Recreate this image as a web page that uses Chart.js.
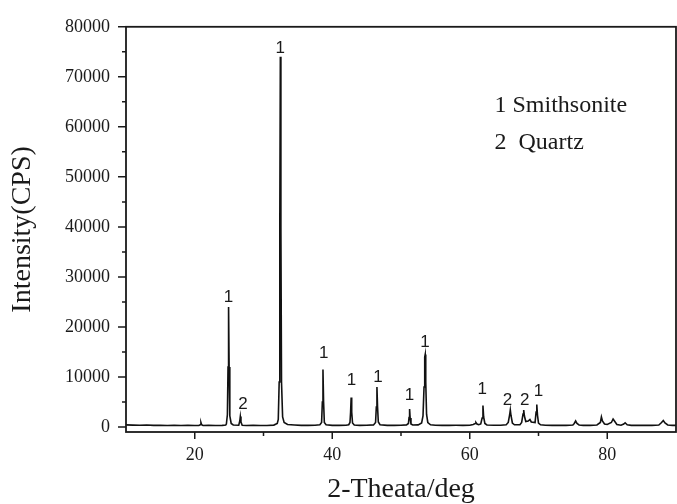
<!DOCTYPE html>
<html>
<head>
<meta charset="utf-8">
<script src="https://cdn.jsdelivr.net/npm/chart.js@4.4.0/dist/chart.umd.min.js"></script>
<style>
    html, body { margin: 0; padding: 0; background: #fff; }
</style>
</head>
<body>
<canvas id="xrdChart" width="677" height="504"></canvas>
<script>
// diffraction pattern (2-theta in deg, intensity in CPS)
const twoTheta = [
    10, 11, 12, 13, 14, 15, 16, 17, 18, 19, 20,
    20.6, 20.8, 20.9, 21.0, 21.2,
    22, 23, 24, 24.5,
    24.6, 24.75, 24.84, 24.92, 25.0, 25.1, 25.3, 25.6,
    26.4, 26.55, 26.63, 26.72, 26.9,
    27.5, 28.5, 29.5, 30.5, 31.5, 32.0,
    32.15, 32.28, 32.37, 32.45, 32.53, 32.62, 32.78, 33.0, 33.5,
    34.5, 35.5, 36.5, 37.5, 38.2,
    38.45, 38.56, 38.65, 38.74, 38.85, 39.1,
    40, 41, 42, 42.4,
    42.58, 42.67, 42.75, 42.83, 42.95, 43.2,
    44, 45, 46,
    46.3, 46.41, 46.5, 46.59, 46.7, 46.95,
    48, 49, 50, 50.8,
    51.08, 51.17, 51.25, 51.33, 51.45, 51.7,
    52.5, 53.0,
    53.2, 53.35, 53.45, 53.52, 53.6, 53.72, 53.9, 54.3,
    55, 56, 57, 58, 59, 60, 60.5,
    60.8, 60.9, 61.05, 61.3,
    61.6, 61.8, 61.92, 62.02, 62.2, 62.5,
    63.5, 64.5, 65.3,
    65.6, 65.8, 65.9, 66.0, 66.2, 66.5,
    67.3,
    67.55, 67.75, 67.85, 67.95, 68.15,
    68.5, 68.75, 68.95,
    69.5, 69.65, 69.75, 69.85, 70.0, 70.3,
    71, 72, 73, 74, 75,
    75.2, 75.4, 75.6, 75.9,
    76.5, 77.5, 78.5,
    79.0, 79.15, 79.3, 79.6,
    80.0, 80.6, 80.85, 81.05, 81.4,
    82.0, 82.4, 82.6, 82.9, 83.5,
    84.5, 85.5, 86.5, 87.5,
    87.9, 88.15, 88.4, 88.8,
    89.5, 90
];
const intensity = [
    420, 380, 350, 400, 330, 360, 310, 340, 300, 330, 310,
    300, 450, 900, 450, 300,
    320, 300, 330, 380,
    600, 2500, 12000, 24000, 12000, 2200, 700, 400,
    350, 1200, 2100, 1000, 350,
    300, 320, 300, 310, 380, 700,
    1500, 9000, 40000, 74000, 40000, 9000, 2000, 900, 500,
    400, 330, 320, 340, 450,
    900, 5000, 11500, 5000, 900, 450,
    330, 320, 340, 450,
    900, 3000, 5900, 3000, 800, 400,
    330, 340, 420,
    900, 4000, 8000, 4000, 1000, 450,
    330, 320, 340, 420,
    700, 1900, 3600, 1800, 600, 400,
    420, 800,
    2200, 8000, 14000, 14500, 9000, 2500, 900, 450,
    340, 330, 320, 340, 330, 360, 500,
    700, 900, 600, 450,
    600, 1800, 4300, 2000, 700, 400,
    340, 340, 450,
    900, 2400, 3400, 2300, 800, 450,
    450,
    900, 2600, 3400, 2200, 1100,
    1200, 1500, 1000,
    900, 3000, 4500, 2400, 800, 450,
    340, 330, 320, 330, 400,
    700, 1200, 700, 400,
    330, 320, 400,
    900, 2000, 1200, 600,
    500, 900, 1600, 1200, 500,
    350, 600, 850, 450, 330,
    320, 330, 320, 400,
    900, 1300, 800, 400,
    330, 320
];

// phase markers above peaks (1 = smithsonite, 2 = quartz)
const markText = ['1', '2', '1', '1', '1', '1', '1', '1', '1', '2', '2', '1'];
const markX = [24.9, 27.0, 32.45, 38.75, 42.8, 46.65, 51.25, 53.5, 61.8, 65.5, 68.0, 70.0];
const markY = [26000, 4600, 75600, 14800, 9350, 10000, 6400, 16900, 7600, 5400, 5400, 7200];

const phaseNotes = ['1 Smithsonite', '2  Quartz'];
const phaseNoteX = [63.6, 63.6];
const phaseNoteY = [64200, 56900];

const xMajor = [20, 40, 60, 80];
const xMinor = [30, 50, 70];
const yMajor = [0, 10000, 20000, 30000, 40000, 50000, 60000, 70000, 80000];
const yMinor = [5000, 15000, 25000, 35000, 45000, 55000, 65000, 75000];

const serif = '"Liberation Serif", "Times New Roman", serif';
const ink = '#1a1a1a';

const points = twoTheta.map((t, i) => ({ x: t, y: intensity[i] }));

// frame, tick marks and text annotations
const decorations = {
    id: 'decorations',
    afterDraw(chart) {
        const { ctx, chartArea: a } = chart;
        const xs = chart.scales.x;
        const ys = chart.scales.y;
        ctx.save();
        ctx.strokeStyle = ink;
        ctx.lineWidth = 1.8;
        ctx.strokeRect(a.left, a.top, a.right - a.left, a.bottom - a.top);

        ctx.lineWidth = 1.5;
        ctx.beginPath();
        xMajor.forEach(v => { const p = xs.getPixelForValue(v); ctx.moveTo(p, a.bottom); ctx.lineTo(p, a.bottom + 7); });
        xMinor.forEach(v => { const p = xs.getPixelForValue(v); ctx.moveTo(p, a.bottom); ctx.lineTo(p, a.bottom + 4); });
        yMajor.forEach(v => { const p = ys.getPixelForValue(v); ctx.moveTo(a.left, p); ctx.lineTo(a.left - 8, p); });
        yMinor.forEach(v => { const p = ys.getPixelForValue(v); ctx.moveTo(a.left, p); ctx.lineTo(a.left - 4, p); });
        ctx.stroke();

        ctx.fillStyle = ink;
        ctx.font = '17px "Liberation Sans", Arial, sans-serif';
        ctx.textAlign = 'center';
        ctx.textBaseline = 'middle';
        markText.forEach((t, i) => {
            ctx.fillText(t, xs.getPixelForValue(markX[i]), ys.getPixelForValue(markY[i]));
        });

        ctx.font = '24px ' + serif;
        ctx.textAlign = 'left';
        phaseNotes.forEach((t, i) => {
            ctx.fillText(t, xs.getPixelForValue(phaseNoteX[i]), ys.getPixelForValue(phaseNoteY[i]));
        });
        ctx.restore();
    }
};

const ctx = document.getElementById('xrdChart').getContext('2d');

window.xrdChart = new Chart(ctx, {
    type: 'scatter',
    data: {
        datasets: [{
            data: points,
            showLine: true,
            borderColor: '#111',
            borderWidth: 1.6,
            pointRadius: 0,
            tension: 0
        }]
    },
    options: {
        responsive: false,
        animation: false,
        layout: { padding: { top: 21, right: 1, left: 0, bottom: 0 } },
        plugins: {
            legend: { display: false },
            tooltip: { enabled: false }
        },
        scales: {
            x: {
                type: 'linear',
                min: 10,
                max: 90,
                afterBuildTicks: s => { s.ticks = xMajor.map(v => ({ value: v })); },
                afterFit: s => { s.height = 72; },
                grid: { display: false, drawTicks: false },
                border: { display: false },
                ticks: { padding: 12, color: ink, font: { family: serif, size: 18 }, maxRotation: 0 },
                title: {
                    display: true,
                    text: '2-Theata/deg',
                    color: ink,
                    font: { family: serif, size: 28, lineHeight: 1 },
                    padding: { top: 0, bottom: 0 }
                }
            },
            y: {
                min: -1000,
                max: 80000,
                afterBuildTicks: s => { s.ticks = yMajor.map(v => ({ value: v })); },
                afterFit: s => { s.width = 126; },
                grid: { display: false, drawTicks: false },
                border: { display: false },
                ticks: { padding: 16, color: ink, font: { family: serif, size: 18 }, callback: v => String(v) },
                title: {
                    display: true,
                    text: 'Intensity(CPS)',
                    color: ink,
                    font: { family: serif, size: 28, lineHeight: 1 },
                    padding: { top: 9, bottom: 0 }
                }
            }
        }
    },
    plugins: [decorations]
});
</script>
</body>
</html>
